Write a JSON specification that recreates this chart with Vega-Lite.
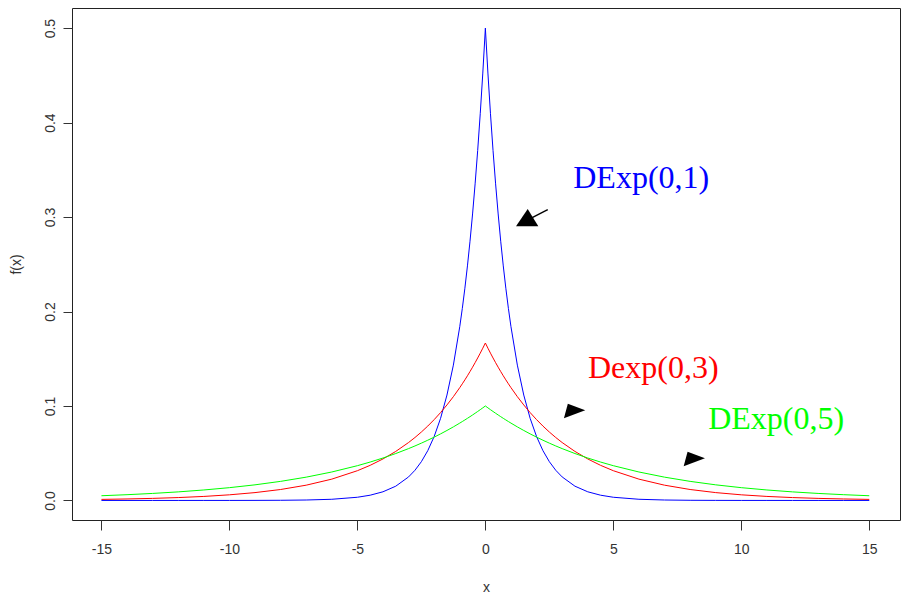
{
  "$schema": "https://vega.github.io/schema/vega-lite/v6.json",
  "width": 828,
  "height": 512,
  "autosize": {"type": "none"},
  "padding": {"left": 72, "top": 8, "right": 5, "bottom": 92},
  "background": "white",
  "config": {
    "view": {"stroke": "#222", "strokeWidth": 1},
    "axis": {
      "domain": false, "grid": false,
      "tickColor": "#333", "tickSize": 10, "tickWidth": 1,
      "labelFont": "Liberation Sans", "labelFontSize": 14, "labelColor": "#333",
      "titleFont": "Liberation Sans", "titleFontSize": 14, "titleFontWeight": "normal", "titleColor": "#333"
    }
  },
  "datasets": {
    "curves": [
      {"x": -15, "b1": 0, "b3": 0.00112, "b5": 0.00498},
      {"x": -14, "b1": 0, "b3": 0.00157, "b5": 0.00608},
      {"x": -13, "b1": 0, "b3": 0.00219, "b5": 0.00743},
      {"x": -12, "b1": 0, "b3": 0.00305, "b5": 0.00907},
      {"x": -11, "b1": 0.00001, "b3": 0.00426, "b5": 0.01108},
      {"x": -10, "b1": 0.00002, "b3": 0.00595, "b5": 0.01353},
      {"x": -9, "b1": 0.00006, "b3": 0.0083, "b5": 0.01653},
      {"x": -8, "b1": 0.00017, "b3": 0.01158, "b5": 0.02019},
      {"x": -7, "b1": 0.00046, "b3": 0.01616, "b5": 0.02466},
      {"x": -6, "b1": 0.00124, "b3": 0.02256, "b5": 0.03012},
      {"x": -5, "b1": 0.00337, "b3": 0.03148, "b5": 0.03679},
      {"x": -4.5, "b1": 0.00555, "b3": 0.03719, "b5": 0.04066},
      {"x": -4, "b1": 0.00916, "b3": 0.04393, "b5": 0.04493},
      {"x": -3.5, "b1": 0.0151, "b3": 0.0519, "b5": 0.04966},
      {"x": -3, "b1": 0.02489, "b3": 0.06131, "b5": 0.05488},
      {"x": -2.75, "b1": 0.03196, "b3": 0.06664, "b5": 0.0577},
      {"x": -2.5, "b1": 0.04104, "b3": 0.07243, "b5": 0.06065},
      {"x": -2.25, "b1": 0.0527, "b3": 0.07873, "b5": 0.06376},
      {"x": -2, "b1": 0.06767, "b3": 0.08557, "b5": 0.06703},
      {"x": -1.75, "b1": 0.08689, "b3": 0.09301, "b5": 0.07047},
      {"x": -1.5, "b1": 0.11157, "b3": 0.10109, "b5": 0.07408},
      {"x": -1.25, "b1": 0.14325, "b3": 0.10987, "b5": 0.07788},
      {"x": -1, "b1": 0.18394, "b3": 0.11942, "b5": 0.08187},
      {"x": -0.9, "b1": 0.20328, "b3": 0.12347, "b5": 0.08353},
      {"x": -0.8, "b1": 0.22466, "b3": 0.12765, "b5": 0.08521},
      {"x": -0.7, "b1": 0.24829, "b3": 0.13198, "b5": 0.08694},
      {"x": -0.6, "b1": 0.27441, "b3": 0.13646, "b5": 0.08869},
      {"x": -0.5, "b1": 0.30327, "b3": 0.14108, "b5": 0.09048},
      {"x": -0.4, "b1": 0.33516, "b3": 0.14586, "b5": 0.09231},
      {"x": -0.3, "b1": 0.37041, "b3": 0.15081, "b5": 0.09418},
      {"x": -0.2, "b1": 0.40937, "b3": 0.15592, "b5": 0.09608},
      {"x": -0.1, "b1": 0.45242, "b3": 0.1612, "b5": 0.09802},
      {"x": 0, "b1": 0.5, "b3": 0.16667, "b5": 0.1},
      {"x": 0.1, "b1": 0.45242, "b3": 0.1612, "b5": 0.09802},
      {"x": 0.2, "b1": 0.40937, "b3": 0.15592, "b5": 0.09608},
      {"x": 0.3, "b1": 0.37041, "b3": 0.15081, "b5": 0.09418},
      {"x": 0.4, "b1": 0.33516, "b3": 0.14586, "b5": 0.09231},
      {"x": 0.5, "b1": 0.30327, "b3": 0.14108, "b5": 0.09048},
      {"x": 0.6, "b1": 0.27441, "b3": 0.13646, "b5": 0.08869},
      {"x": 0.7, "b1": 0.24829, "b3": 0.13198, "b5": 0.08694},
      {"x": 0.8, "b1": 0.22466, "b3": 0.12765, "b5": 0.08521},
      {"x": 0.9, "b1": 0.20328, "b3": 0.12347, "b5": 0.08353},
      {"x": 1, "b1": 0.18394, "b3": 0.11942, "b5": 0.08187},
      {"x": 1.25, "b1": 0.14325, "b3": 0.10987, "b5": 0.07788},
      {"x": 1.5, "b1": 0.11157, "b3": 0.10109, "b5": 0.07408},
      {"x": 1.75, "b1": 0.08689, "b3": 0.09301, "b5": 0.07047},
      {"x": 2, "b1": 0.06767, "b3": 0.08557, "b5": 0.06703},
      {"x": 2.25, "b1": 0.0527, "b3": 0.07873, "b5": 0.06376},
      {"x": 2.5, "b1": 0.04104, "b3": 0.07243, "b5": 0.06065},
      {"x": 2.75, "b1": 0.03196, "b3": 0.06664, "b5": 0.0577},
      {"x": 3, "b1": 0.02489, "b3": 0.06131, "b5": 0.05488},
      {"x": 3.5, "b1": 0.0151, "b3": 0.0519, "b5": 0.04966},
      {"x": 4, "b1": 0.00916, "b3": 0.04393, "b5": 0.04493},
      {"x": 4.5, "b1": 0.00555, "b3": 0.03719, "b5": 0.04066},
      {"x": 5, "b1": 0.00337, "b3": 0.03148, "b5": 0.03679},
      {"x": 6, "b1": 0.00124, "b3": 0.02256, "b5": 0.03012},
      {"x": 7, "b1": 0.00046, "b3": 0.01616, "b5": 0.02466},
      {"x": 8, "b1": 0.00017, "b3": 0.01158, "b5": 0.02019},
      {"x": 9, "b1": 0.00006, "b3": 0.0083, "b5": 0.01653},
      {"x": 10, "b1": 0.00002, "b3": 0.00595, "b5": 0.01353},
      {"x": 11, "b1": 0.00001, "b3": 0.00426, "b5": 0.01108},
      {"x": 12, "b1": 0, "b3": 0.00305, "b5": 0.00907},
      {"x": 13, "b1": 0, "b3": 0.00219, "b5": 0.00743},
      {"x": 14, "b1": 0, "b3": 0.00157, "b5": 0.00608},
      {"x": 15, "b1": 0, "b3": 0.00112, "b5": 0.00498}
    ],
    "labels": [
      {"series": "b1", "x": 6.09, "y": 0.341, "label": "DExp(0,1)"},
      {"series": "b3", "x": 6.56, "y": 0.14, "label": "Dexp(0,3)"},
      {"series": "b5", "x": 11.36, "y": 0.086, "label": "DExp(0,5)"}
    ],
    "arrows": [
      {"id": "a1", "x": 1.639, "y": 0.2963, "xt": 2.437, "yt": 0.3078, "xs": 1.811, "ys": 0.299},
      {"id": "a2", "x": 3.398, "y": 0.0948},
      {"id": "a3", "x": 8.076, "y": 0.044}
    ]
  },
  "layer": [
    {
      "data": {"name": "curves"},
      "transform": [{"fold": ["b1", "b3", "b5"], "as": ["series", "y"]}],
      "mark": {"type": "line", "strokeWidth": 1, "clip": true},
      "encoding": {
        "x": {"field": "x", "type": "quantitative",
          "scale": {"domain": [-16.15, 16.2], "nice": false, "zero": false},
          "axis": {"values": [-15, -10, -5, 0, 5, 10, 15], "labelExpr": "'' + datum.value", "labelPadding": 12, "title": "x", "titlePadding": 24}},
        "y": {"field": "y", "type": "quantitative",
          "scale": {"domain": [-0.0207, 0.5213], "nice": false, "zero": false},
          "axis": {"values": [0, 0.1, 0.2, 0.3, 0.4, 0.5], "format": ".1f", "tickSize": 9,
            "labelAngle": -90, "labelAlign": "center", "labelBaseline": "bottom", "labelPadding": 6,
            "title": "f(x)", "titlePadding": 20}},
        "color": {"field": "series", "type": "nominal",
          "scale": {"domain": ["b1", "b3", "b5"], "range": ["#0000FF", "#FF0000", "#00FF00"]},
          "legend": null}
      }
    },
    {
      "data": {"name": "labels"},
      "mark": {"type": "text", "font": "Liberation Serif", "fontSize": 32, "align": "center", "baseline": "middle"},
      "encoding": {
        "x": {"field": "x", "type": "quantitative"},
        "y": {"field": "y", "type": "quantitative"},
        "text": {"field": "label"},
        "color": {"field": "series", "type": "nominal", "legend": null}
      }
    },
    {
      "data": {"name": "arrows"},
      "transform": [{"filter": "datum.id === 'a1'"}],
      "mark": {"type": "rule", "color": "black", "strokeWidth": 1.4},
      "encoding": {
        "x": {"field": "xs", "type": "quantitative"},
        "y": {"field": "ys", "type": "quantitative"},
        "x2": {"field": "xt"},
        "y2": {"field": "yt"}
      }
    },
    {
      "data": {"name": "arrows"},
      "transform": [{"filter": "datum.id === 'a1'"}],
      "mark": {"type": "point", "shape": "M-1.13,0.58L0.04,-1.16L1.1,0.58Z", "filled": true, "color": "black", "strokeWidth": 0, "size": 400, "opacity": 1},
      "encoding": {
        "x": {"field": "x", "type": "quantitative"},
        "y": {"field": "y", "type": "quantitative"}
      }
    },
    {
      "data": {"name": "arrows"},
      "transform": [{"filter": "datum.id !== 'a1'"}],
      "mark": {"type": "point", "shape": "M-0.84,0.74L-0.45,-0.71L1.29,-0.07Z", "filled": true, "color": "black", "strokeWidth": 0, "size": 400, "opacity": 1},
      "encoding": {
        "x": {"field": "x", "type": "quantitative"},
        "y": {"field": "y", "type": "quantitative"}
      }
    }
  ]
}
